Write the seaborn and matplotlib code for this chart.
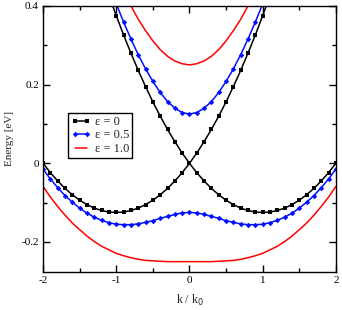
import matplotlib
matplotlib.use("Agg")
import matplotlib.pyplot as plt
import seaborn as sns
from matplotlib.ticker import MultipleLocator, FuncFormatter

# k / k0 grid (0.1)
k_a = [-2.0, -1.9, -1.8, -1.7, -1.6, -1.5, -1.4, -1.3, -1.2, -1.1, -1.0,
       -0.9, -0.8, -0.7, -0.6, -0.5, -0.4, -0.3, -0.2, -0.1, 0.0,
       0.1, 0.2, 0.3, 0.4, 0.5, 0.6, 0.7, 0.8, 0.9, 1.0, 1.1]
k_b = [-1.1, -1.0, -0.9, -0.8, -0.7, -0.6, -0.5, -0.4, -0.3, -0.2, -0.1,
       0.0, 0.1, 0.2, 0.3, 0.4, 0.5, 0.6, 0.7, 0.8, 0.9, 1.0,
       1.1, 1.2, 1.3, 1.4, 1.5, 1.6, 1.7, 1.8, 1.9, 2.0]
k_full = [-2.0, -1.9, -1.8, -1.7, -1.6, -1.5, -1.4, -1.3, -1.2, -1.1, -1.0,
          -0.9, -0.8, -0.7, -0.6, -0.5, -0.4, -0.3, -0.2, -0.1, 0.0,
          0.1, 0.2, 0.3, 0.4, 0.5, 0.6, 0.7, 0.8, 0.9, 1.0,
          1.1, 1.2, 1.3, 1.4, 1.5, 1.6, 1.7, 1.8, 1.9, 2.0]
k_blue_up = [-1.1, -1.0, -0.9, -0.8, -0.7, -0.6, -0.5, -0.4, -0.3, -0.2, -0.1,
             0.0, 0.1, 0.2, 0.3, 0.4, 0.5, 0.6, 0.7, 0.8, 0.9, 1.0, 1.1]
k_red_up = [-0.9, -0.8, -0.7, -0.6, -0.5, -0.4, -0.3, -0.2, -0.1,
            0.0, 0.1, 0.2, 0.3, 0.4, 0.5, 0.6, 0.7, 0.8, 0.9]

# eps = 0 : two crossing branches
black_a = [0.0, -0.024, -0.045, -0.064, -0.080, -0.094, -0.105, -0.114, -0.120, -0.124, -0.125,
           -0.124, -0.120, -0.114, -0.105, -0.094, -0.080, -0.064, -0.045, -0.024, 0.0,
           0.026, 0.055, 0.086, 0.120, 0.156, 0.195, 0.236, 0.280, 0.326, 0.375, 0.426]
black_b = [0.426, 0.375, 0.326, 0.280, 0.236, 0.195, 0.156, 0.120, 0.086, 0.055, 0.026,
           0.0, -0.024, -0.045, -0.064, -0.080, -0.094, -0.105, -0.114, -0.120, -0.124, -0.125,
           -0.124, -0.120, -0.114, -0.105, -0.094, -0.080, -0.064, -0.045, -0.024, 0.0]

# eps = 0.5
blue_up = [0.453, 0.405, 0.359, 0.316, 0.276, 0.240, 0.208, 0.180, 0.157, 0.140, 0.129,
           0.125, 0.129, 0.140, 0.157, 0.180, 0.208, 0.240, 0.276, 0.316, 0.359, 0.405, 0.453]
blue_lo = [-0.015, -0.040, -0.062, -0.082, -0.099, -0.114, -0.127, -0.137, -0.145, -0.151, -0.155,
           -0.156, -0.156, -0.154, -0.150, -0.146, -0.140, -0.135, -0.130, -0.126, -0.125,
           -0.126, -0.130, -0.135, -0.140, -0.146, -0.150, -0.154, -0.156, -0.156, -0.155,
           -0.151, -0.145, -0.137, -0.127, -0.114, -0.099, -0.082, -0.062, -0.040, -0.015]

# eps = 1.0
red_up = [0.438, 0.400, 0.366, 0.337, 0.311, 0.289, 0.272, 0.260, 0.253,
          0.250, 0.253, 0.260, 0.272, 0.289, 0.311, 0.337, 0.366, 0.400, 0.438]
red_lo = [-0.059, -0.086, -0.110, -0.132, -0.152, -0.169, -0.185, -0.199, -0.211, -0.220, -0.229,
          -0.235, -0.240, -0.244, -0.247, -0.248, -0.249, -0.250, -0.250, -0.250, -0.250,
          -0.250, -0.250, -0.250, -0.249, -0.248, -0.247, -0.244, -0.240, -0.235,
          -0.229, -0.220, -0.211, -0.199, -0.185, -0.169, -0.152, -0.132, -0.110, -0.086, -0.059]

sns.set_theme(style="ticks")
plt.rcParams.update({
    "font.family": ["Liberation Serif", "DejaVu Serif"],
    "font.size": 8,
    "axes.unicode_minus": False,
    "axes.linewidth": 1.0,
    "xtick.direction": "in", "ytick.direction": "in",
    "xtick.top": True, "ytick.right": True,
    "xtick.major.size": 5, "ytick.major.size": 5,
    "xtick.minor.size": 3, "ytick.minor.size": 3,
    "xtick.color": "black", "ytick.color": "black",
    "axes.edgecolor": "black",
})

fig = plt.figure(figsize=(3.42, 3.10), dpi=100)
ax = fig.add_axes([0.126, 0.123, 0.856, 0.858])

blk = dict(color="black", marker="s", markersize=2.8, linewidth=1.1,
           markeredgewidth=0, sort=False, ax=ax)
blu = dict(color="#0010ff", marker="D", markersize=2.8, linewidth=1.1,
           markeredgewidth=0, sort=False, ax=ax)
sns.lineplot(x=k_a, y=black_a, label="\u03b5 = 0", **blk)
sns.lineplot(x=k_b, y=black_b, **blk)
sns.lineplot(x=k_blue_up, y=blue_up, label="\u03b5 = 0.5", **blu)
sns.lineplot(x=k_full, y=blue_lo, **blu)
sns.lineplot(x=k_red_up, y=red_up, color="#ff0000", linewidth=1.1,
             label="\u03b5 = 1.0", sort=False, ax=ax)
sns.lineplot(x=k_full, y=red_lo, color="#ff0000", linewidth=1.1, sort=False, ax=ax)

ax.set_xlim(-2, 2)
ax.set_ylim(-0.276, 0.4)
ax.xaxis.set_major_locator(MultipleLocator(1))
ax.xaxis.set_minor_locator(MultipleLocator(0.5))
ax.yaxis.set_major_locator(MultipleLocator(0.2))
ax.yaxis.set_minor_locator(MultipleLocator(0.1))
ax.yaxis.set_major_formatter(FuncFormatter(lambda v, p: f"{v:g}" if abs(v) > 1e-9 else "0"))
ax.xaxis.set_major_formatter(FuncFormatter(lambda v, p: f"{v:g}" if abs(v) > 1e-9 else "0"))
ax.tick_params(which="both", labelsize=8, width=1.0, pad=3)
ax.set_xlabel("k / k$_0$", fontsize=8.5, labelpad=6)
ax.set_ylabel("Energy [eV]", fontsize=8, labelpad=5)

leg = ax.legend(loc="upper left", bbox_to_anchor=(0.085, 0.598), borderaxespad=0,
                fontsize=9, numpoints=2, handlelength=1.6, handletextpad=0.3,
                labelspacing=0.12, borderpad=0.25, fancybox=False, framealpha=1)
leg.get_frame().set_edgecolor("black")
leg.get_frame().set_linewidth(1.0)

fig.savefig("out.png", dpi=100)
